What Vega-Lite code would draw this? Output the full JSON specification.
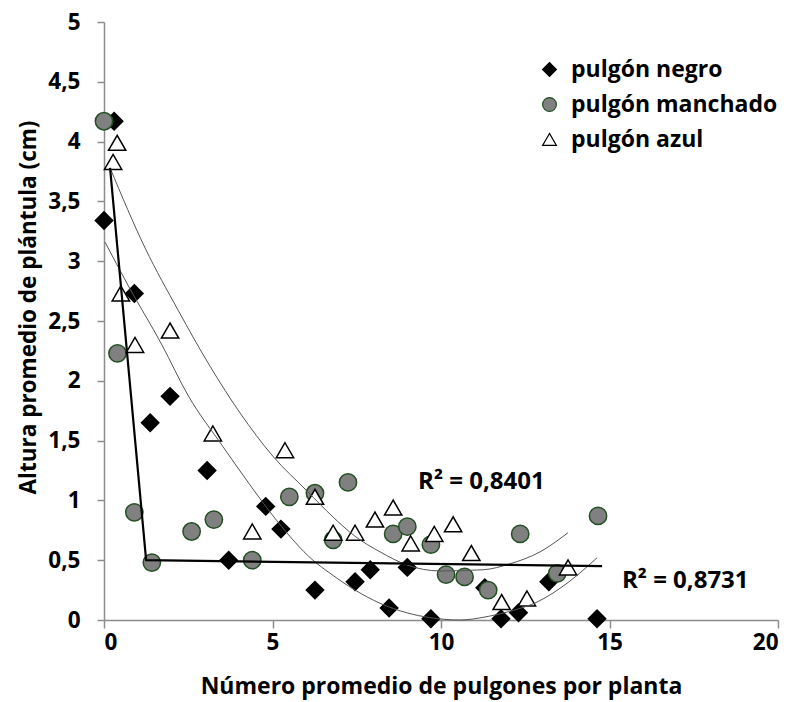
{
  "$schema": "https://vega.github.io/schema/vega-lite/v6.json",
  "width": 674,
  "height": 598,
  "autosize": "none",
  "padding": {"left": 104, "top": 22, "right": 18, "bottom": 82},
  "background": "white",
  "config": {
    "view": {"stroke": null},
    "font": "Open Sans",
    "axis": {
      "grid": false,
      "domainColor": "#8c8c8c",
      "domainWidth": 1.5,
      "tickColor": "#8c8c8c",
      "tickWidth": 1.5,
      "labelColor": "black",
      "labelFont": "Open Sans",
      "labelFontWeight": "bold",
      "labelFontSize": 22.5,
      "titleColor": "black",
      "titleFont": "Open Sans",
      "titleFontWeight": "bold"
    },
    "legend": {
      "labelFont": "Open Sans",
      "labelFontWeight": "bold",
      "labelFontSize": 23,
      "labelColor": "black",
      "labelLimit": 0
    }
  },
  "datasets": {
    "puntos": [
      {"x": 0.0, "y": 3.34, "serie": "pulgón negro"},
      {"x": 0.3, "y": 4.17, "serie": "pulgón negro"},
      {"x": 0.9, "y": 2.73, "serie": "pulgón negro"},
      {"x": 1.37, "y": 1.65, "serie": "pulgón negro"},
      {"x": 1.96, "y": 1.87, "serie": "pulgón negro"},
      {"x": 3.06, "y": 1.25, "serie": "pulgón negro"},
      {"x": 3.7, "y": 0.5, "serie": "pulgón negro"},
      {"x": 4.8, "y": 0.95, "serie": "pulgón negro"},
      {"x": 5.25, "y": 0.76, "serie": "pulgón negro"},
      {"x": 6.26, "y": 0.25, "serie": "pulgón negro"},
      {"x": 7.45, "y": 0.32, "serie": "pulgón negro"},
      {"x": 7.9, "y": 0.42, "serie": "pulgón negro"},
      {"x": 8.46, "y": 0.1, "serie": "pulgón negro"},
      {"x": 9.0, "y": 0.44, "serie": "pulgón negro"},
      {"x": 9.7, "y": 0.01, "serie": "pulgón negro"},
      {"x": 11.3, "y": 0.27, "serie": "pulgón negro"},
      {"x": 11.78, "y": 0.01, "serie": "pulgón negro"},
      {"x": 12.3, "y": 0.06, "serie": "pulgón negro"},
      {"x": 13.2, "y": 0.32, "serie": "pulgón negro"},
      {"x": 14.63, "y": 0.01, "serie": "pulgón negro"},
      {"x": 0.0, "y": 4.17, "serie": "pulgón manchado"},
      {"x": 0.4, "y": 2.23, "serie": "pulgón manchado"},
      {"x": 0.9, "y": 0.9, "serie": "pulgón manchado"},
      {"x": 1.42, "y": 0.48, "serie": "pulgón manchado"},
      {"x": 2.6, "y": 0.74, "serie": "pulgón manchado"},
      {"x": 3.26, "y": 0.84, "serie": "pulgón manchado"},
      {"x": 4.4, "y": 0.5, "serie": "pulgón manchado"},
      {"x": 5.5, "y": 1.03, "serie": "pulgón manchado"},
      {"x": 6.26, "y": 1.06, "serie": "pulgón manchado"},
      {"x": 6.8, "y": 0.67, "serie": "pulgón manchado"},
      {"x": 7.24, "y": 1.15, "serie": "pulgón manchado"},
      {"x": 8.58, "y": 0.72, "serie": "pulgón manchado"},
      {"x": 9.0, "y": 0.78, "serie": "pulgón manchado"},
      {"x": 9.7, "y": 0.63, "serie": "pulgón manchado"},
      {"x": 10.15, "y": 0.38, "serie": "pulgón manchado"},
      {"x": 10.7, "y": 0.36, "serie": "pulgón manchado"},
      {"x": 11.4, "y": 0.25, "serie": "pulgón manchado"},
      {"x": 12.35, "y": 0.72, "serie": "pulgón manchado"},
      {"x": 13.45, "y": 0.39, "serie": "pulgón manchado"},
      {"x": 14.66, "y": 0.87, "serie": "pulgón manchado"},
      {"x": 0.39, "y": 3.99, "serie": "pulgón azul"},
      {"x": 0.27, "y": 3.83, "serie": "pulgón azul"},
      {"x": 0.5, "y": 2.73, "serie": "pulgón azul"},
      {"x": 0.92, "y": 2.3, "serie": "pulgón azul"},
      {"x": 1.96, "y": 2.42, "serie": "pulgón azul"},
      {"x": 3.23, "y": 1.56, "serie": "pulgón azul"},
      {"x": 4.4, "y": 0.74, "serie": "pulgón azul"},
      {"x": 5.37, "y": 1.42, "serie": "pulgón azul"},
      {"x": 6.26, "y": 1.03, "serie": "pulgón azul"},
      {"x": 6.8, "y": 0.73, "serie": "pulgón azul"},
      {"x": 7.45, "y": 0.73, "serie": "pulgón azul"},
      {"x": 8.04, "y": 0.84, "serie": "pulgón azul"},
      {"x": 8.58, "y": 0.94, "serie": "pulgón azul"},
      {"x": 9.1, "y": 0.64, "serie": "pulgón azul"},
      {"x": 9.8, "y": 0.72, "serie": "pulgón azul"},
      {"x": 10.36, "y": 0.8, "serie": "pulgón azul"},
      {"x": 10.9, "y": 0.56, "serie": "pulgón azul"},
      {"x": 11.8, "y": 0.15, "serie": "pulgón azul"},
      {"x": 12.55, "y": 0.18, "serie": "pulgón azul"},
      {"x": 13.77, "y": 0.44, "serie": "pulgón azul"}
    ],
    "curvas": [
      {"x": 0.18, "y": 3.78, "curva": "azul"},
      {"x": 1.22, "y": 3.11, "curva": "azul"},
      {"x": 2.2, "y": 2.59, "curva": "azul"},
      {"x": 3.15, "y": 2.12, "curva": "azul"},
      {"x": 4.04, "y": 1.73, "curva": "azul"},
      {"x": 5.01, "y": 1.37, "curva": "azul"},
      {"x": 6.02, "y": 1.08, "curva": "azul"},
      {"x": 6.8, "y": 0.86, "curva": "azul"},
      {"x": 7.45, "y": 0.7, "curva": "azul"},
      {"x": 8.19, "y": 0.57, "curva": "azul"},
      {"x": 8.99, "y": 0.46, "curva": "azul"},
      {"x": 9.97, "y": 0.41, "curva": "azul"},
      {"x": 11.25, "y": 0.42, "curva": "azul"},
      {"x": 12.05, "y": 0.47, "curva": "azul"},
      {"x": 12.94, "y": 0.57, "curva": "azul"},
      {"x": 13.77, "y": 0.73, "curva": "azul"},
      {"x": 0.03, "y": 3.16, "curva": "negro"},
      {"x": 0.71, "y": 2.8, "curva": "negro"},
      {"x": 1.72, "y": 2.3, "curva": "negro"},
      {"x": 2.49, "y": 1.88, "curva": "negro"},
      {"x": 3.53, "y": 1.45, "curva": "negro"},
      {"x": 4.33, "y": 1.13, "curva": "negro"},
      {"x": 5.13, "y": 0.83, "curva": "negro"},
      {"x": 6.2, "y": 0.5, "curva": "negro"},
      {"x": 6.71, "y": 0.39, "curva": "negro"},
      {"x": 7.45, "y": 0.25, "curva": "negro"},
      {"x": 8.19, "y": 0.14, "curva": "negro"},
      {"x": 8.99, "y": 0.06, "curva": "negro"},
      {"x": 9.67, "y": 0.02, "curva": "negro"},
      {"x": 10.56, "y": 0.0, "curva": "negro"},
      {"x": 11.4, "y": 0.03, "curva": "negro"},
      {"x": 12.14, "y": 0.08, "curva": "negro"},
      {"x": 12.85, "y": 0.15, "curva": "negro"},
      {"x": 13.8, "y": 0.32, "curva": "negro"},
      {"x": 14.63, "y": 0.52, "curva": "negro"}
    ],
    "recta": [
      {"x": 0.18, "y": 3.78},
      {"x": 1.25, "y": 0.5},
      {"x": 14.78, "y": 0.45}
    ],
    "etiquetas": [
      {"x": 9.32, "y": 1.15, "texto": "R² = 0,8401"},
      {"x": 15.37, "y": 0.33, "texto": "R² = 0,8731"}
    ]
  },
  "layer": [
    {
      "data": {"name": "puntos"},
      "mark": {"type": "point", "filled": false, "strokeWidth": 1.5, "opacity": 1},
      "encoding": {
        "x": {
          "field": "x", "type": "quantitative",
          "scale": {"domain": [0, 20], "nice": false, "zero": false},
          "axis": {
            "values": [0, 5, 10, 15, 20],
            "tickSize": 8,
            "labelPadding": 3,
            "title": "Número promedio de pulgones por planta",
            "titleFontSize": 23,
            "titleX": 337,
            "titleY": 66,
            "titleAlign": "center",
            "titleBaseline": "middle"
          }
        },
        "y": {
          "field": "y", "type": "quantitative",
          "scale": {"domain": [0, 5], "nice": false, "zero": false},
          "axis": {
            "values": [0, 0.5, 1, 1.5, 2, 2.5, 3, 3.5, 4, 4.5, 5],
            "labelExpr": "replace(format(datum.value, '~r'), '.', ',')",
            "tickSize": 7,
            "labelPadding": 17,
            "title": "Altura promedio de plántula  (cm)",
            "titleFontSize": 22.5,
            "titleX": -76,
            "titleY": 285,
            "titleAngle": -90,
            "titleAlign": "center",
            "titleBaseline": "middle"
          }
        },
        "shape": {
          "field": "serie", "type": "nominal",
          "scale": {"domain": ["pulgón negro", "pulgón manchado", "pulgón azul"], "range": ["diamond", "circle", "triangle-up"]},
          "legend": {
            "title": null,
            "orient": "none",
            "legendX": 434,
            "legendY": 36,
            "symbolSize": 190,
            "symbolStrokeWidth": 1.2,
            "labelOffset": 10,
            "rowPadding": 11,
            "padding": 0
          }
        },
        "fill": {
          "field": "serie", "type": "nominal",
          "scale": {"domain": ["pulgón negro", "pulgón manchado", "pulgón azul"], "range": ["black", "#808080", "white"]},
          "legend": {
            "title": null,
            "orient": "none",
            "legendX": 434,
            "legendY": 36,
            "symbolSize": 190,
            "symbolStrokeWidth": 1.2,
            "labelOffset": 10,
            "rowPadding": 11,
            "padding": 0
          }
        },
        "stroke": {
          "field": "serie", "type": "nominal",
          "scale": {"domain": ["pulgón negro", "pulgón manchado", "pulgón azul"], "range": ["black", "#234f23", "black"]},
          "legend": {
            "title": null,
            "orient": "none",
            "legendX": 434,
            "legendY": 36,
            "symbolSize": 190,
            "symbolStrokeWidth": 1.2,
            "labelOffset": 10,
            "rowPadding": 11,
            "padding": 0
          }
        },
        "size": {"value": 300}
      }
    },
    {
      "data": {"name": "curvas"},
      "mark": {"type": "line", "color": "#555555", "strokeWidth": 1, "interpolate": "monotone"},
      "encoding": {
        "x": {"field": "x", "type": "quantitative"},
        "y": {"field": "y", "type": "quantitative"},
        "detail": {"field": "curva", "type": "nominal"}
      }
    },
    {
      "data": {"name": "recta"},
      "mark": {"type": "line", "color": "black", "strokeWidth": 2.2},
      "encoding": {
        "x": {"field": "x", "type": "quantitative"},
        "y": {"field": "y", "type": "quantitative"}
      }
    },
    {
      "data": {"name": "etiquetas"},
      "mark": {"type": "text", "align": "left", "baseline": "middle", "font": "Open Sans", "fontWeight": "bold", "fontSize": 24, "color": "black"},
      "encoding": {
        "x": {"field": "x", "type": "quantitative"},
        "y": {"field": "y", "type": "quantitative"},
        "text": {"field": "texto", "type": "nominal"}
      }
    }
  ]
}
